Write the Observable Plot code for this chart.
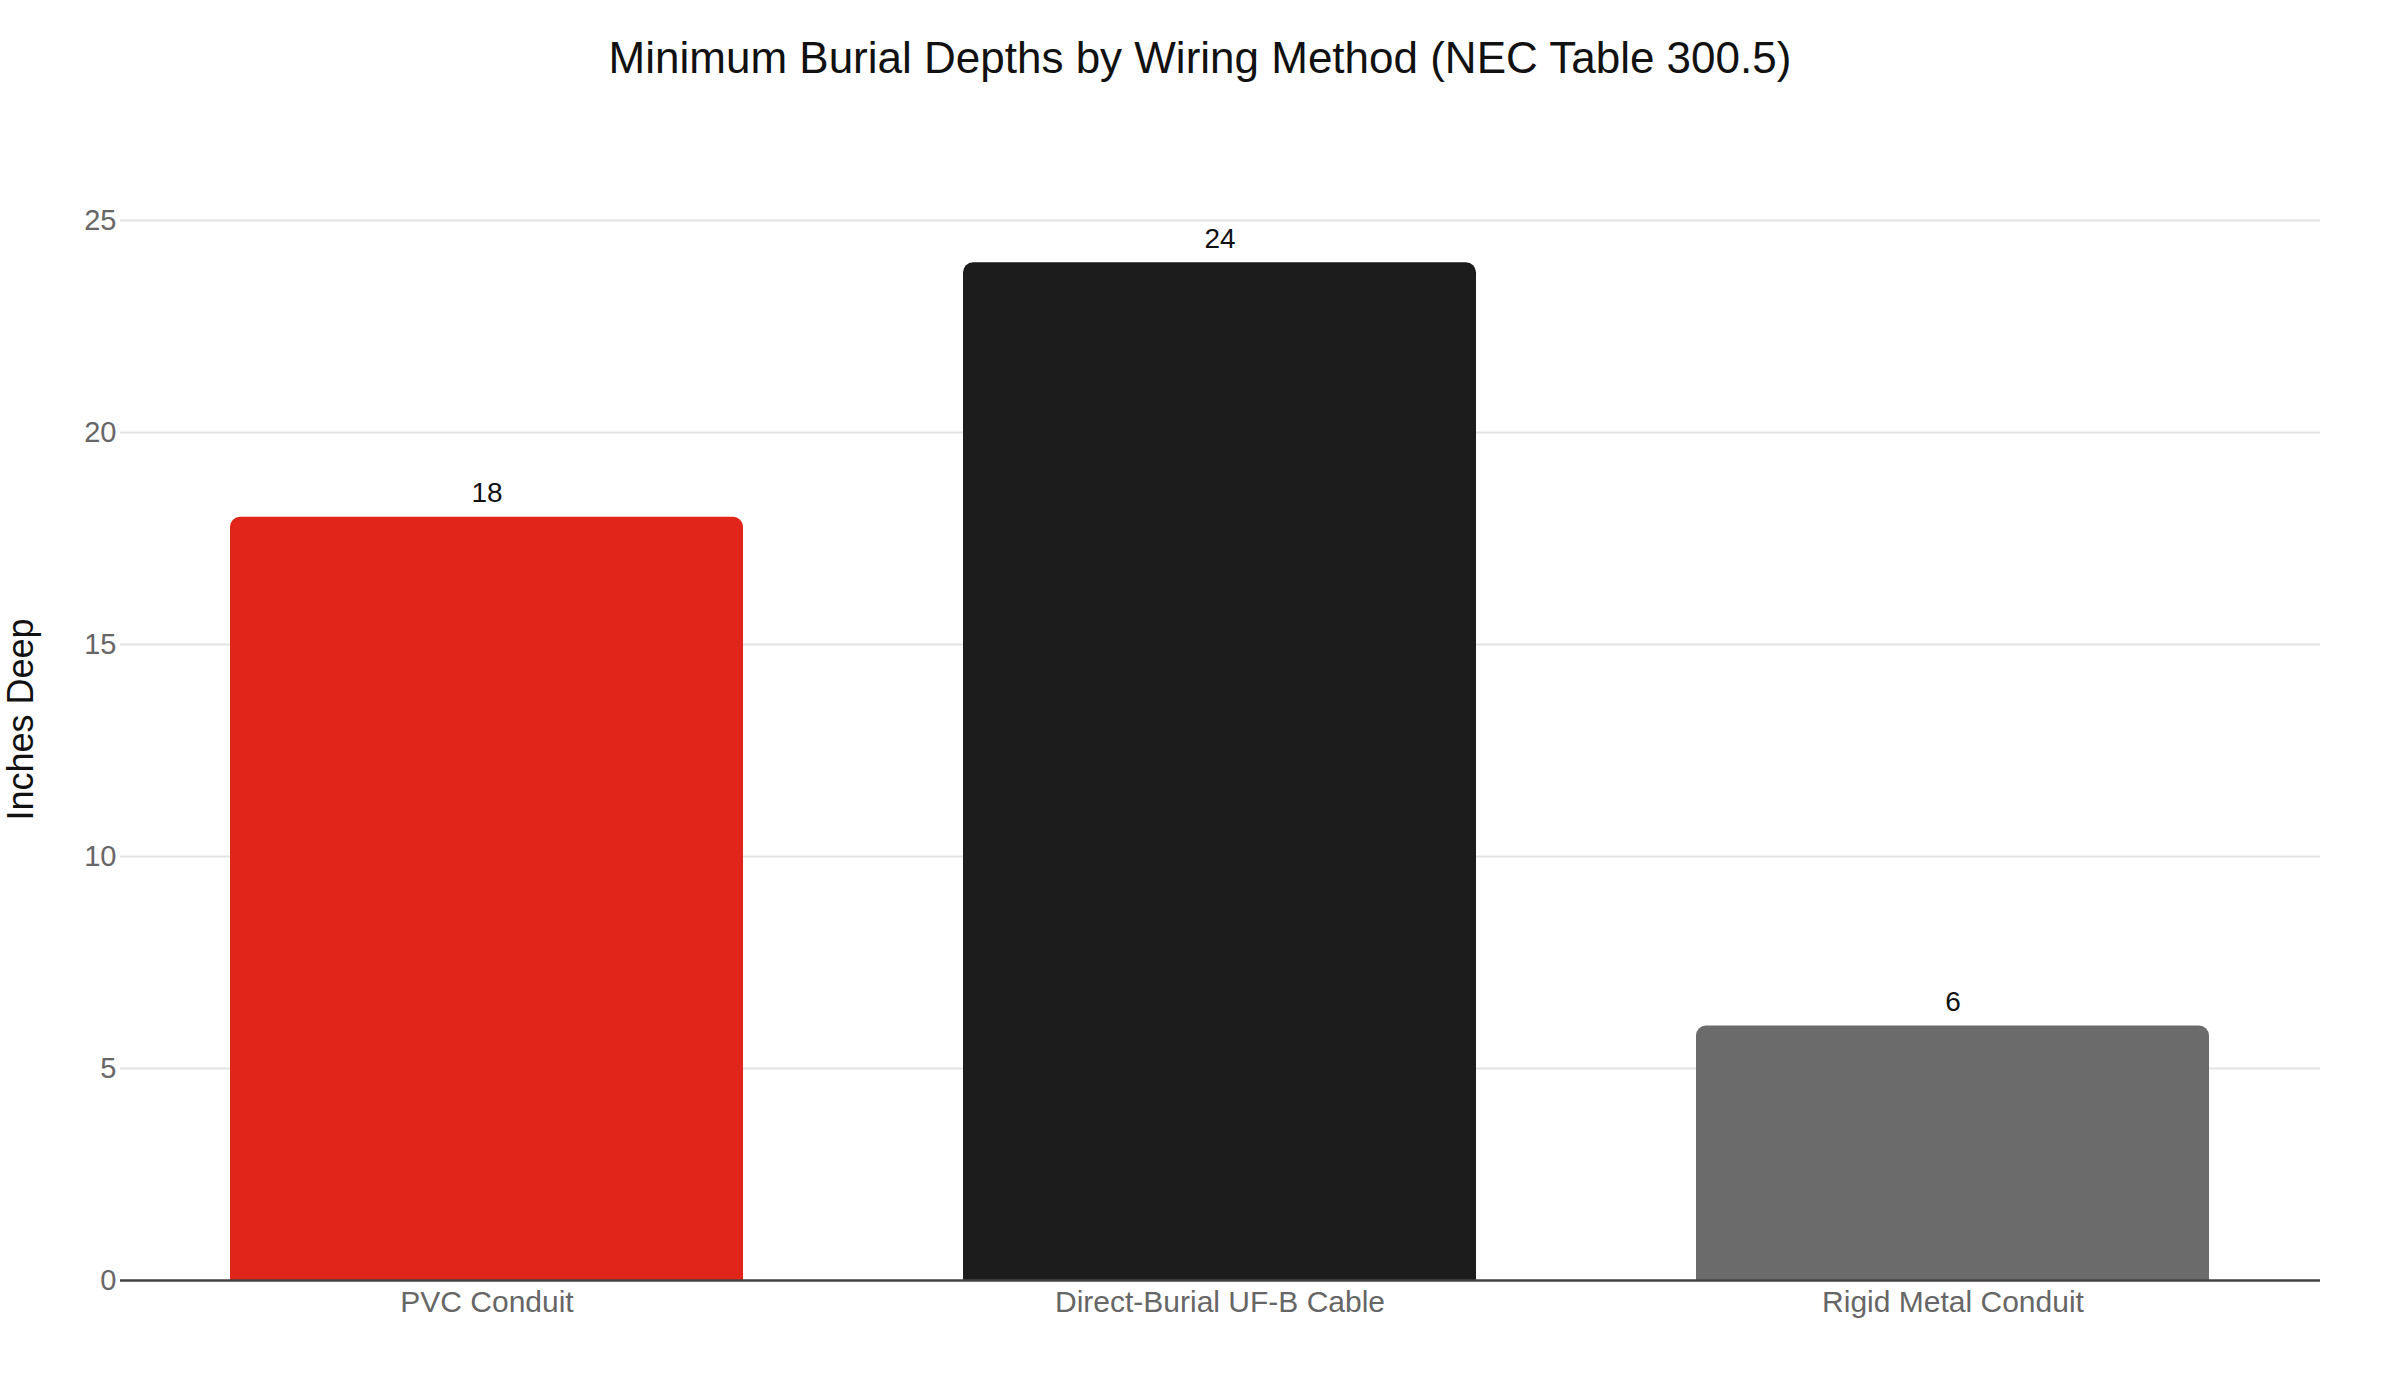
<!DOCTYPE html>
<html>
<head>
<meta charset="utf-8">
<script src="https://cdn.jsdelivr.net/npm/d3@7"></script>
<script src="https://cdn.jsdelivr.net/npm/@observablehq/plot@0.6"></script>
<style>
  html, body { margin: 0; padding: 0; background: #fff; }
  body { width: 2400px; height: 1400px; overflow: hidden; font-family: "Liberation Sans", Arial, Helvetica, sans-serif; }
  #title { height: 120px; position: relative; }
  #title span { position: absolute; left: 0; width: 2400px; text-align: center; top: 36px; font-size: 44px; line-height: 1; color: #111; }
  svg text { font-family: "Liberation Sans", Arial, Helvetica, sans-serif; }
</style>
</head>
<body>
<div id="title"><span>Minimum Burial Depths by Wiring Method (NEC Table 300.5)</span></div>
<div id="chart"></div>
<script>
const categories = ["PVC Conduit", "Direct-Burial UF-B Cable", "Rigid Metal Conduit"];
const depths = [18, 24, 6];
const yTicks = [0, 5, 10, 15, 20, 25];

const data = categories.map((c, i) => ({category: c, depth: depths[i]}));

const chart = Plot.plot({
  width: 2400,
  height: 1280,
  marginTop: 38,
  marginBottom: 120,
  marginLeft: 120,
  marginRight: 80,
  style: {fontSize: "28px", fontFamily: "'Liberation Sans', Arial, Helvetica, sans-serif", background: "#fff"},
  x: {domain: categories, paddingInner: 0.3, paddingOuter: 0.15, align: 0.5},
  y: {domain: [0, 26.46]},
  color: {domain: categories, range: ["#e1251b", "#1c1c1c", "#6b6b6b"]},
  marks: [
    Plot.gridY(yTicks, {stroke: "#e3e3e3", strokeOpacity: 1, strokeWidth: 2}),
    Plot.barY(data, {x: "category", y: "depth", fill: "category", ry1: 10}),
    Plot.ruleY([0], {stroke: "#444", strokeWidth: 2.5}),
    Plot.text(data, {x: "category", y: "depth", text: d => String(d.depth), dy: -24, fill: "#111", fontSize: 28}),
    Plot.axisX({tickSize: 0, tickPadding: 10.5, fill: "#666", fontSize: 30, label: null}),
    Plot.axisY(yTicks, {tickSize: 0, tickPadding: 4, fill: "#666", fontSize: 29, label: null}),
    Plot.axisY({ticks: [], tickSize: 0, label: "Inches Deep", labelAnchor: "center", labelArrow: "none", labelOffset: 113, fill: "#111", fontSize: 36})
  ]
});
document.getElementById("chart").appendChild(chart);
</script>
</body>
</html>
